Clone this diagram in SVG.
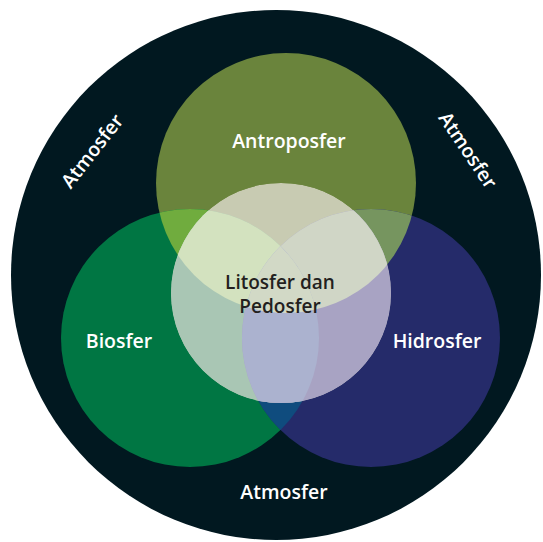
<svg xmlns="http://www.w3.org/2000/svg" width="543" height="542" viewBox="0 0 543 542">
<style>
text{font-family:"Open Sans","Liberation Sans",sans-serif;font-weight:600;font-size:19.5px;text-anchor:middle}
.w{fill:#ffffff}
.d{fill:#231f20;font-size:19px}
</style>
<defs>
<clipPath id="cA"><circle cx="286" cy="183" r="130"/></clipPath>
<clipPath id="cB"><circle cx="190" cy="338" r="129"/></clipPath>
<clipPath id="cH"><circle cx="371" cy="338" r="129"/></clipPath>
<clipPath id="cC"><circle cx="281" cy="293" r="110"/></clipPath>
<clipPath id="cBA" clip-path="url(#cA)"><circle cx="190" cy="338" r="129"/></clipPath>
</defs>
<rect width="543" height="542" fill="#ffffff"/>
<g id="atmosfer">
<circle cx="276" cy="275" r="265" fill="#011820"/>
<text class="w" transform="translate(92,151) rotate(-52)" y="7">Atmosfer</text>
<text class="w" transform="translate(468,150) rotate(56)" y="7">Atmosfer</text>
<text class="w" x="284" y="499">Atmosfer</text>
</g>
<g id="antroposfer">
<circle cx="286" cy="183" r="130" fill="#6a843c"/>
</g>
<g id="biosfer">
<circle cx="190" cy="338" r="129" fill="#007643"/>
</g>
<g id="hidrosfer">
<circle cx="371" cy="338" r="129" fill="#252b6a"/>
</g>
<g id="overlaps">
<circle cx="190" cy="338" r="129" fill="#70ac3e" clip-path="url(#cA)"/>
<circle cx="371" cy="338" r="129" fill="#76955f" clip-path="url(#cA)"/>
<circle cx="371" cy="338" r="129" fill="#0f4c7e" clip-path="url(#cB)"/>
</g>
<g id="litosfer">
<g clip-path="url(#cC)">
<circle cx="281" cy="293" r="110" fill="#c8cbb2"/>
<circle cx="190" cy="338" r="129" fill="#a9c6b4"/>
<circle cx="371" cy="338" r="129" fill="#a8a3c3"/>
<circle cx="190" cy="338" r="129" fill="#d3e2bf" clip-path="url(#cA)"/>
<circle cx="371" cy="338" r="129" fill="#d0d6c6" clip-path="url(#cA)"/>
<circle cx="371" cy="338" r="129" fill="#abb2cf" clip-path="url(#cB)"/>
<circle cx="371" cy="338" r="129" fill="#d2d9c6" clip-path="url(#cBA)"/>
</g>
<text class="d" x="280" y="289">Litosfer dan</text>
<text class="d" x="280" y="313">Pedosfer</text>
</g>
<g id="labels">
<text class="w" x="289" y="148">Antroposfer</text>
<text class="w" x="119" y="348">Biosfer</text>
<text class="w" x="437" y="348">Hidrosfer</text>
</g>
</svg>
